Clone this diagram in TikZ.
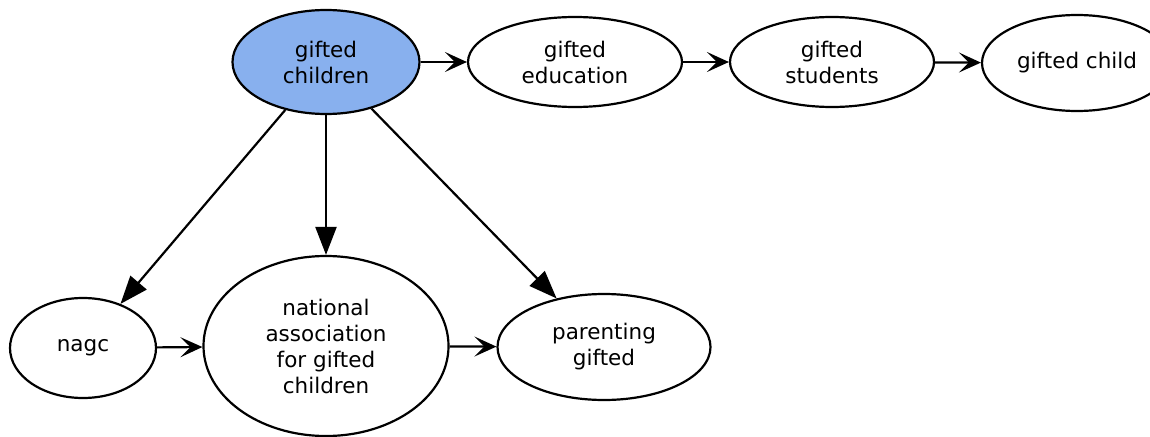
\documentclass[tikz,border=0pt]{standalone}
\usepackage{fontspec}
\setmainfont{DejaVu Sans}
\usetikzlibrary{shapes.geometric,arrows.meta}

\begin{document}
\begin{tikzpicture}[
		x=1pt,y=-1pt,
		line width=2.2pt,
		font=\fontsize{21.5}{26}\selectfont,
		flow/.style={-{Stealth[length=22pt,width=20pt,inset=10pt]}},
		big/.style={-{Triangle[length=28pt,width=21pt]}},
		topic/.style={ellipse,draw,inner sep=0pt,align=center},
		seed/.style={topic,fill=seedblue}
		]
		\definecolor{seedblue}{HTML}{88B0EE}
		\useasboundingbox (0,0) rectangle (1150,436);
		\node[seed,minimum width=187,minimum height=104](gc) at (326,62){gifted\\children};
		\node[topic,minimum width=214,minimum height=90](ge) at (575,62){gifted\\education};
		\node[topic,minimum width=204,minimum height=90](gs) at (832,62){gifted\\students};
		\node[topic,minimum width=190,minimum height=96](gch) at (1077,63){gifted child};
		\node[topic,minimum width=146,minimum height=100](nagc) at (83,348){nagc};
		\node[topic,minimum width=245,minimum height=180](nat) at (326,346){national\\association\\for gifted\\children};
		\node[topic,minimum width=213,minimum height=106](pg) at (604,347){parenting\\gifted};
		\path[flow]
		(gc) edge [] (ge)
		(ge) edge [] (gs)
		(gs) edge [] (gch)
		(nagc) edge [] (nat)
		(nat) edge [] (pg)
		;
		\path[big]
		(gc) edge [] (nagc)
		(gc) edge [] (nat)
		(gc) edge [] (pg)
		;
		
		
		\end{tikzpicture}
\end{document}
